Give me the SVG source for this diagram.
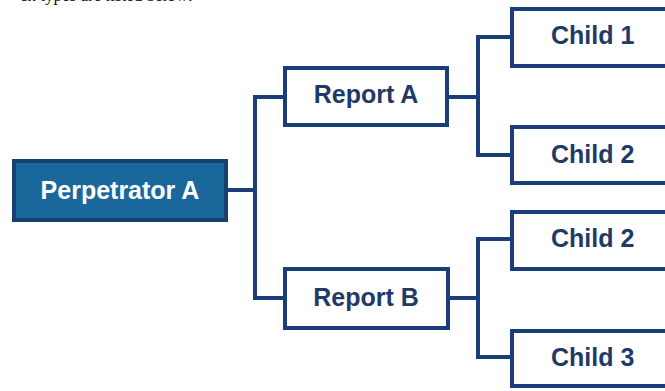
<svg xmlns="http://www.w3.org/2000/svg" width="665" height="391" viewBox="0 0 665 391">
<style>
.box{fill:#ffffff;stroke:#1b3d7a;stroke-width:4}
.root{fill:#19679b;stroke:#17406f;stroke-width:4}
.lbl{font-family:"Liberation Sans",Arial,sans-serif;font-weight:bold;font-size:25px;fill:#1f3a66}
.wlbl{font-family:"Liberation Sans",Arial,sans-serif;font-weight:bold;font-size:25px;fill:#ffffff}
.con{fill:none;stroke:#1b3d7a;stroke-width:4}
.frag{font-family:"Liberation Serif","Times New Roman",serif;font-size:17px;fill:#111}
</style>
<rect width="665" height="391" fill="#ffffff"/>
<text class="frag" x="20" y="1">ch types are listed below:</text>
<g id="connectors">
<path class="con" d="M228 190H255M255 97V298M253 97H285M253 298H285"/>
<path class="con" d="M449 97H478M478 37V155M476 37H512M476 155H512"/>
<path class="con" d="M450 298H478M478 239V357M476 239H512M476 357H512"/>
</g>
<g id="perpetrator-a">
<rect class="root" x="14" y="161" width="212" height="59"/>
<text class="wlbl" x="120" y="199" text-anchor="middle">Perpetrator A</text>
</g>
<g id="report-a">
<rect class="box" x="285" y="68" width="162" height="57"/>
<text class="lbl" x="366" y="103" text-anchor="middle">Report A</text>
</g>
<g id="report-b">
<rect class="box" x="285" y="269" width="163" height="59"/>
<text class="lbl" x="366" y="306" text-anchor="middle">Report B</text>
</g>
<g id="child-1">
<rect class="box" x="512" y="9" width="200" height="57"/>
<text class="lbl" x="551" y="44">Child 1</text>
</g>
<g id="child-2a">
<rect class="box" x="512" y="127" width="200" height="56"/>
<text class="lbl" x="551" y="163">Child 2</text>
</g>
<g id="child-2b">
<rect class="box" x="512" y="212" width="200" height="57"/>
<text class="lbl" x="551" y="247">Child 2</text>
</g>
<g id="child-3">
<rect class="box" x="512" y="331" width="200" height="55"/>
<text class="lbl" x="551" y="366">Child 3</text>
</g>
</svg>
